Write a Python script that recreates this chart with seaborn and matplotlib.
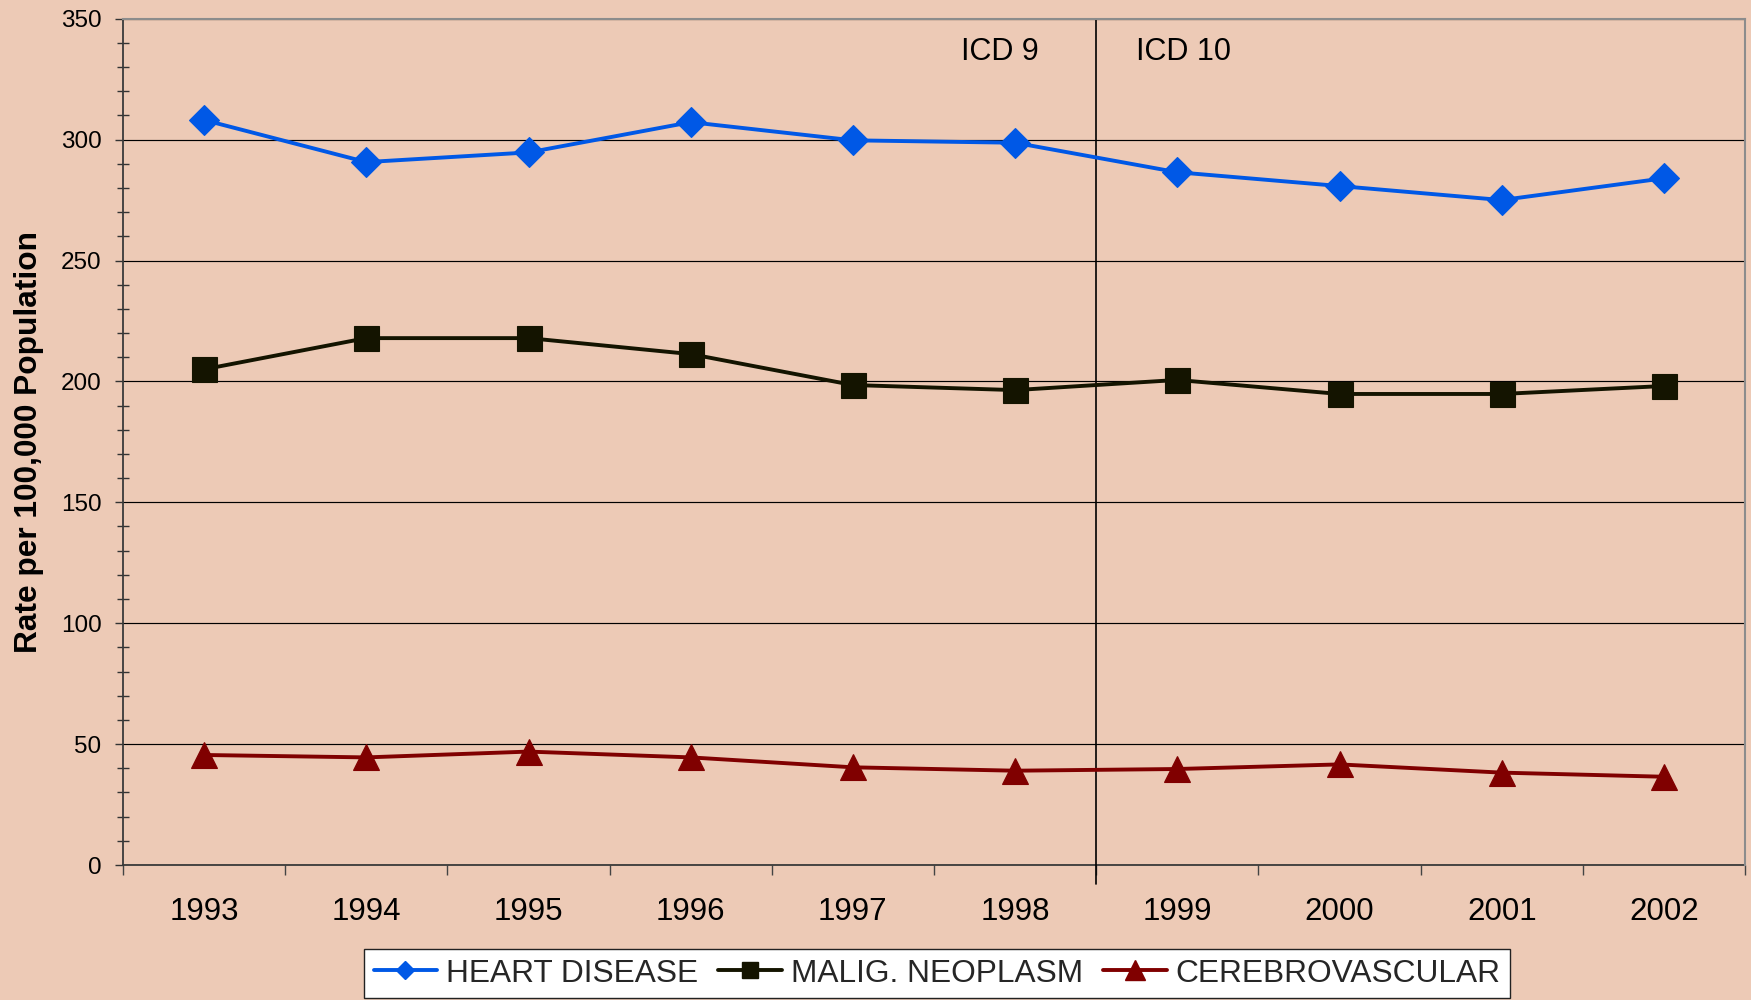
import numpy as np
import pandas as pd
import matplotlib
matplotlib.use("Agg")
import matplotlib.pyplot as plt
from matplotlib.lines import Line2D
from matplotlib.ticker import MultipleLocator
import seaborn as sns

# ---- data ----
years = [1993, 1994, 1995, 1996, 1997, 1998, 1999, 2000, 2001, 2002]
heart = [308.1, 290.7, 294.7, 307.2, 299.7, 298.7, 286.5, 280.8, 275.0, 284.0]
malig = [205.0, 217.9, 217.9, 211.3, 198.5, 196.4, 200.6, 194.8, 194.8, 198.1]
cerebro = [45.5, 44.5, 46.9, 44.5, 40.4, 39.0, 39.7, 41.6, 38.2, 36.5]
series_names = ["HEART DISEASE", "MALIG. NEOPLASM", "CEREBROVASCULAR"]
y_ticks = [0, 50, 100, 150, 200, 250, 300, 350]
icd_labels = ["ICD 9", "ICD 10"]
y_label = "Rate per 100,000 Population"

colors = {"HEART DISEASE": "#0058E6", "MALIG. NEOPLASM": "#141400", "CEREBROVASCULAR": "#800000"}
markers = {"HEART DISEASE": "D", "MALIG. NEOPLASM": "s", "CEREBROVASCULAR": "^"}
msizes = {"HEART DISEASE": 15, "MALIG. NEOPLASM": 18, "CEREBROVASCULAR": 18.5}
leg_msizes = {"HEART DISEASE": 9.5, "MALIG. NEOPLASM": 11.5, "CEREBROVASCULAR": 15}

df = pd.DataFrame({
    "year": years * 3,
    "rate": heart + malig + cerebro,
    "cause": [series_names[0]] * 10 + [series_names[1]] * 10 + [series_names[2]] * 10,
})

sns.set_style("ticks")
plt.rcParams["font.family"] = ["Liberation Sans", "DejaVu Sans"]

BG = "#EDCAB6"
fig = plt.figure(figsize=(17.51, 10), dpi=100, facecolor=BG)
ax = fig.add_axes([123 / 1751, 1 - 865 / 1000, (1745 - 123) / 1751, (865 - 18.7) / 1000])
ax.set_facecolor(BG)

for name in series_names:
    sns.lineplot(data=df[df["cause"] == name], x="year", y="rate", ax=ax,
                 color=colors[name], marker=markers[name], markersize=msizes[name],
                 markeredgecolor=colors[name], markeredgewidth=0.8, linewidth=2.8,
                 legend=False, zorder=4)

ax.set_xlim(1992.5, 2002.5)
ax.set_ylim(0, 350)
ax.set_xlabel("")
ax.set_ylabel("")

# x ticks: boundaries as major ticks, labels at years via minor ticks
ax.set_xticks(np.arange(1992.5, 2003, 1.0))
ax.set_xticklabels([])
ax.set_xticks(years, minor=True)
ax.set_xticklabels([str(y) for y in years], minor=True)
ax.tick_params(axis="x", which="major", direction="out", length=7.2, width=1.0, color="#444444")
ax.tick_params(axis="x", which="minor", length=0, pad=23, labelsize=22.5, labelcolor="black")

ax.set_yticks(y_ticks)
ax.yaxis.set_minor_locator(MultipleLocator(10))
ax.tick_params(axis="y", which="major", direction="out", length=5.9, width=1.0, color="#333333",
               labelsize=17.5, pad=9.5, labelcolor="black")
ax.tick_params(axis="y", which="minor", direction="inout", length=8.6, width=1.0, color="#333333")

ax.yaxis.grid(True, which="major", color="black", linewidth=0.85)
ax.xaxis.grid(False)
ax.set_axisbelow(True)

for s in ["left", "bottom"]:
    ax.spines[s].set_color("#3a3a3a")
    ax.spines[s].set_linewidth(1.3)
for s in ["top", "right"]:
    ax.spines[s].set_visible(True)
    ax.spines[s].set_color("#8c8c8c")
    ax.spines[s].set_linewidth(1.5)
    ax.spines[s].set_zorder(3)

# ICD divider
ax.axvline(1998.5, ymin=-19 / 846, ymax=1, color="black", linewidth=1.2, clip_on=False, zorder=3)
ax.text((1000 - 123) / 1622, (865 - 60) / 846, icd_labels[0], transform=ax.transAxes,
        ha="center", va="baseline", fontsize=22, color="black")
ax.text((1183 - 123) / 1622, (865 - 60) / 846, icd_labels[1], transform=ax.transAxes,
        ha="center", va="baseline", fontsize=22, color="black")

fig.text(29 / 1751, 1 - 442 / 1000, y_label, rotation=90, ha="center", va="center",
         fontsize=22.8, fontweight="bold", color="black")

handles = [Line2D([0], [0], color=colors[n], marker=markers[n], markersize=leg_msizes[n],
                  markeredgecolor=colors[n], linewidth=2.8) for n in series_names]
leg = fig.legend(handles, series_names, loc="upper left",
                 bbox_to_anchor=(364 / 1751, 1 - 949 / 1000), ncol=3, frameon=True,
                 fancybox=False, edgecolor="#222222", facecolor="white", framealpha=1,
                 fontsize=22.8, handlelength=2.0, handletextpad=0.28, columnspacing=0.65,
                 borderpad=0.3, borderaxespad=0)
leg.get_frame().set_linewidth(1.0)

fig.savefig("out.png", dpi=100, facecolor=BG)
